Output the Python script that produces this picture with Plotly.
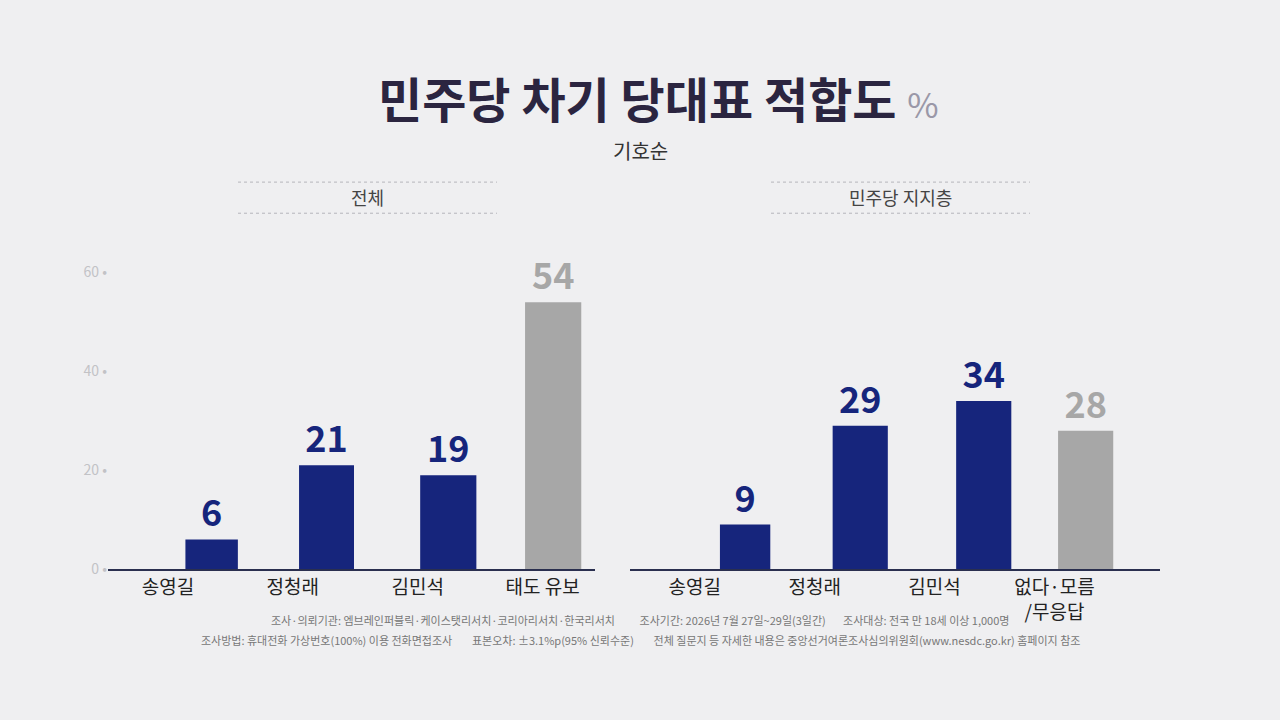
import plotly.graph_objects as go

W, H = 1280, 720
cats_all = ["송영길", "정청래", "김민석", "태도 유보"]
vals_all = [6, 21, 19, 54]
cats_dem = ["송영길", "정청래", "김민석", "없다·모름<br>/무응답"]
vals_dem = [9, 29, 34, 28]
yticks = [0, 20, 40, 60]

NAVY = "#16257c"
GREY = "#a7a7a7"
def colors(v): return [NAVY, NAVY, NAVY, GREY]

def px(x): return x / W
def py(y): return 1 - y / H

fig = go.Figure()
fig.add_trace(go.Bar(x=cats_all, y=vals_all, xaxis="x", yaxis="y",
    marker=dict(color=colors(vals_all), line=dict(width=0)),
    width=[0.42, 0.44, 0.45, 0.45], offset=[0.14, 0.05, 0.02, -0.14],
    text=[str(v) for v in vals_all], texttemplate="<b>%{text}</b>", textposition="outside", cliponaxis=False,
    textfont=dict(family="Noto Sans CJK KR", size=36, color=[NAVY, NAVY, NAVY, GREY])))
fig.add_trace(go.Bar(x=cats_dem, y=vals_dem, xaxis="x2", yaxis="y2",
    marker=dict(color=colors(vals_dem), line=dict(width=0)),
    width=[0.42, 0.46, 0.46, 0.46], offset=[0.21, 0.15, 0.18, 0.03],
    text=[str(v) for v in vals_dem], texttemplate="<b>%{text}</b>", textposition="outside", cliponaxis=False,
    textfont=dict(family="Noto Sans CJK KR", size=36, color=[NAVY, NAVY, NAVY, GREY])))

ydom = [py(574), py(269)]
fig.update_layout(
    width=W, height=H, margin=dict(l=0, r=0, t=0, b=0),
    paper_bgcolor="#efeff1", plot_bgcolor="rgba(0,0,0,0)", showlegend=False,
    font=dict(family="Noto Sans CJK KR"),
    xaxis=dict(domain=[px(108), px(595)], range=[-0.48, 3.42], showline=True, linecolor="#2a2f4f",
               linewidth=2, ticks="", showgrid=False, tickfont=dict(size=19, color="#222"), anchor="y"),
    yaxis=dict(domain=ydom, range=[0, 60], tickvals=yticks, ticktext=[f"{v} •" for v in yticks],
               showgrid=False, zeroline=False, tickfont=dict(size=14, color="#c2c2c6"), anchor="x"),
    xaxis2=dict(domain=[px(630), px(1160)], range=[-0.54, 3.88], showline=True, linecolor="#2a2f4f",
                linewidth=2, ticks="", showgrid=False, tickfont=dict(size=19, color="#222"), anchor="y2"),
    yaxis2=dict(domain=ydom, range=[0, 60], showticklabels=False, showgrid=False, zeroline=False, anchor="x2"),
)

ann = [
    dict(x=px(658), y=py(88), text="<b>민주당 차기 당대표 적합도</b> <span style='color:#9a98a8;font-size:34px'>%</span>",
         font=dict(size=48, color="#2b2540")),
    dict(x=px(640), y=py(143), text="기호순", font=dict(size=20, color="#333")),
    dict(x=px(367), y=py(191), text="전체", font=dict(size=18, color="#444")),
    dict(x=px(900), y=py(191), text="민주당 지지층", font=dict(size=18, color="#444")),
    dict(x=px(640), y=py(626), text="조사·의뢰기관: 엠브레인퍼블릭·케이스탯리서치·코리아리서치·한국리서치          조사기간: 2026년 7월 27일~29일(3일간)       조사대상: 전국 만 18세 이상 1,000명",
         font=dict(size=11, color="#777")),
    dict(x=px(640), y=py(647), text="조사방법: 휴대전화 가상번호(100%) 이용 전화면접조사        표본오차: ±3.1%p(95% 신뢰수준)        전체 질문지 등 자세한 내용은 중앙선거여론조사심의위원회(www.nesdc.go.kr) 홈페이지 참조",
         font=dict(size=11, color="#777")),
]
for a in ann:
    a.update(xref="paper", yref="paper", showarrow=False, xanchor="center", yanchor="middle")
fig.update_layout(annotations=ann)

shapes = []
for x0, x1 in [(238, 497), (771, 1030)]:
    for y in (176, 208):
        shapes.append(dict(type="line", xref="paper", yref="paper", x0=px(x0), x1=px(x1), y0=py(y), y1=py(y),
                           line=dict(color="#b5b5bb", width=1, dash="dot")))
fig.update_layout(shapes=shapes)

fig.write_html("out.html", config={"displayModeBar": False},
               post_script="document.body.style.margin='0';document.body.style.background='#efeff1';")
